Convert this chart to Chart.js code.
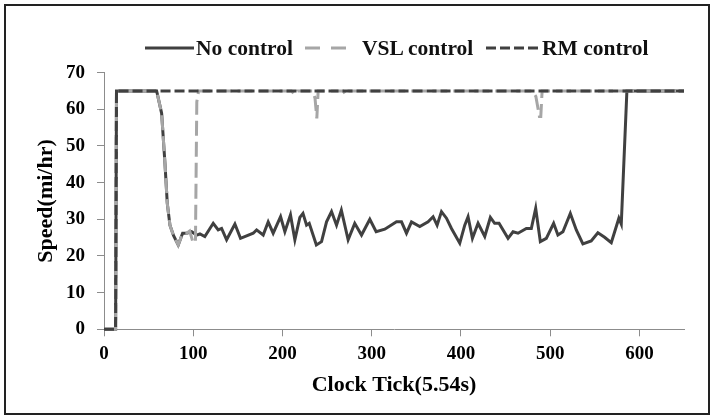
<!DOCTYPE html>
<html>
<head>
<meta charset="utf-8">
<script src="https://cdn.jsdelivr.net/npm/chart.js@4/dist/chart.umd.min.js"></script>
<style>
  html, body { margin: 0; padding: 0; background: #fff; }
  #wrap { position: relative; width: 714px; height: 418px; overflow: hidden; }
  #frame { position: absolute; left: 4px; top: 4px; width: 706px; height: 411px; box-sizing: border-box; border: 2px solid #222; pointer-events: none; }
  #chart { position: absolute; left: 0; top: 0; }
  .leg { position: absolute; top: 35px; font: bold 21.5px "Liberation Serif", "Times New Roman", serif; color: #111; white-space: nowrap; line-height: 26px; }
  .leg svg { position: absolute; top: 0; }
</style>
</head>
<body>
<div id="wrap">
  <canvas id="chart" width="714" height="418"></canvas>
  <div id="legend"></div>
  <div id="frame"></div>
</div>
<script>
// ---- data ----
const seriesNames = ['No control', 'VSL control', 'RM control'];

const noCtrlX = [0, 13, 14, 59, 64.6, 68.3, 70.9, 73.9, 78, 83.2, 88.1, 92.6, 98.2, 103.8, 107.5, 113,
  122.4, 128, 131.8, 137.4, 146.7, 153, 167.2, 171, 178.4, 184, 189.6, 197.9, 202.7, 209, 213.9,
  219.5, 223, 227, 230, 238, 243.8, 249.4, 255, 260.6, 266, 273.6, 281, 288.6, 297.9, 305, 314.7,
  327.8, 333.4, 339, 344.6, 353.9, 363.2, 368.8, 373.3, 378.2, 383.8, 389.4, 398.7, 404.3, 408,
  412.9, 419.2, 426.7, 433, 437.8, 442.7, 452.8, 458.4, 464, 473.3, 478.9, 483.8, 489, 495.7,
  503.9, 508.7, 514.3, 522.6, 529.3, 536.7, 546, 553.5, 561, 568.5, 577, 579.7, 586, 650];
const noCtrlY = [0, 0, 65, 65, 58.9, 45.3, 34.4, 28.4, 25.5, 23, 26.2, 26.2, 26.6, 25.7, 26, 25.3,
  28.9, 27.1, 27.5, 24.4, 28.7, 24.8, 26.2, 27.1, 25.7, 29.3, 26.2, 30.7, 26.6, 31.2, 24.4,
  30.5, 31.6, 28.4, 28.9, 23, 23.9, 29.3, 32.1, 28.4, 32.5, 24.4, 28.9, 25.7, 30, 26.6, 27.3,
  29.3, 29.3, 26.2, 29.3, 28, 29.3, 30.7, 28.4, 32.1, 30.3, 27.5, 23.5, 28.4, 30.7,
  24.8, 28.9, 25.3, 30.5, 28.9, 28.9, 24.8, 26.6, 26.2, 27.5, 27.5, 33, 23.9, 24.8,
  28.9, 25.7, 26.6, 31.6, 27.1, 23.3, 24.1, 26.3, 25.1, 23.6, 30.3, 28.7, 65, 65];

const vslX = [0, 13, 14, 59, 64.6, 68.3, 70.9, 73.9, 78, 83.2, 88.1, 92.6, 96, 100, 102.5, 104, 106,
  210, 214, 217, 234, 236.5, 238.5, 240, 268, 271, 274, 480, 484, 488, 489.5, 491, 650];
const vslY = [0, 0, 65, 65, 58.9, 45.3, 34.4, 28.4, 25.5, 23, 26.2, 26.2, 26.8, 23.5, 24, 62, 65,
  65, 64, 65, 65, 63, 57.5, 65, 65, 64, 65, 65, 63.5, 58, 58, 65, 65];

const rmX = [0, 13, 14, 650];
const rmY = [0, 0, 65, 65];

const xTicks = [0, 100, 200, 300, 400, 500, 600];
const yTicks = [0, 10, 20, 30, 40, 50, 60, 70];

// ---- styles ----
const DARK = '#404040';
const LIGHT = '#a6a6a6';
const styles = [
  { color: DARK, dash: [] },
  { color: LIGHT, dash: [15, 6] },
  { color: DARK, dash: [10, 4] }
];
const FONT = '"Liberation Serif", "Times New Roman", serif';

function pts(xs, ys) {
  return xs.map((x, i) => ({ x: x, y: ys[i] }));
}

const allData = [pts(noCtrlX, noCtrlY), pts(vslX, vslY), pts(rmX, rmY)];

const datasets = seriesNames.map((name, i) => ({
  label: name,
  data: allData[i],
  borderColor: styles[i].color,
  backgroundColor: styles[i].color,
  borderDash: styles[i].dash,
  borderWidth: 3,
  pointRadius: 0,
  tension: 0,
  fill: false,
  clip: false,
  order: 3 - i   // RM drawn on top, no control underneath
}));

new Chart(document.getElementById('chart'), {
  type: 'line',
  data: { datasets: datasets },
  options: {
    responsive: false,
    devicePixelRatio: 1,
    animation: false,
    events: [],
    layout: { padding: { top: 72.6, right: 30, bottom: 19.8, left: 0 } },
    plugins: { legend: { display: false }, tooltip: { enabled: false } },
    scales: {
      x: {
        type: 'linear',
        min: 0,
        max: 650,
        afterBuildTicks: s => { s.ticks = xTicks.map(v => ({ value: v })); },
        afterFit: s => { s.height = 68.9; },
        grid: { drawOnChartArea: false, tickLength: 7, color: '#8c8c8c' },
        border: { color: '#8c8c8c', width: 1 },
        ticks: { padding: 6, color: '#000', font: { family: FONT, size: 19, weight: 'bold' }, maxRotation: 0 },
        title: { display: true, text: 'Clock Tick(5.54s)', color: '#000', padding: 0,
          font: { family: FONT, size: 22, weight: 'bold' } }
      },
      y: {
        min: 0,
        max: 70,
        afterBuildTicks: s => { s.ticks = yTicks.map(v => ({ value: v })); },
        afterFit: s => { s.width = 104; },
        grid: { drawOnChartArea: false, tickLength: 7, color: '#8c8c8c' },
        border: { color: '#8c8c8c', width: 1 },
        ticks: { padding: 12, color: '#000', font: { family: FONT, size: 19, weight: 'bold' } },
        title: { display: true, text: 'Speed(mi/hr)', color: '#000', padding: { top: 32.8, bottom: 0 },
          font: { family: FONT, size: 22, weight: 'bold' } }
      }
    }
  }
});

// ---- legend (html, samples use the same line styles) ----
const legendPos = [
  { lineFrom: 145, lineTo: 194, text: 196 },
  { lineFrom: 305, lineTo: 351, text: 362 },
  { lineFrom: 486, lineTo: 540, text: 542 }
];
const legend = document.getElementById('legend');
seriesNames.forEach((name, i) => {
  const p = legendPos[i];
  const w = p.lineTo - p.lineFrom;
  const ns = 'http://www.w3.org/2000/svg';
  const svg = document.createElementNS(ns, 'svg');
  svg.setAttribute('width', w);
  svg.setAttribute('height', 26);
  svg.style.position = 'absolute';
  svg.style.left = p.lineFrom + 'px';
  svg.style.top = '35px';
  const ln = document.createElementNS(ns, 'line');
  ln.setAttribute('x1', 0); ln.setAttribute('x2', w);
  ln.setAttribute('y1', 13); ln.setAttribute('y2', 13);
  ln.setAttribute('stroke', styles[i].color);
  ln.setAttribute('stroke-width', 3);
  if (styles[i].dash.length) ln.setAttribute('stroke-dasharray', i === 1 ? '15 11' : '10 4');
  svg.appendChild(ln);
  legend.appendChild(svg);

  const t = document.createElement('div');
  t.className = 'leg';
  t.style.left = p.text + 'px';
  t.textContent = name;
  legend.appendChild(t);
});
</script>
</body>
</html>
